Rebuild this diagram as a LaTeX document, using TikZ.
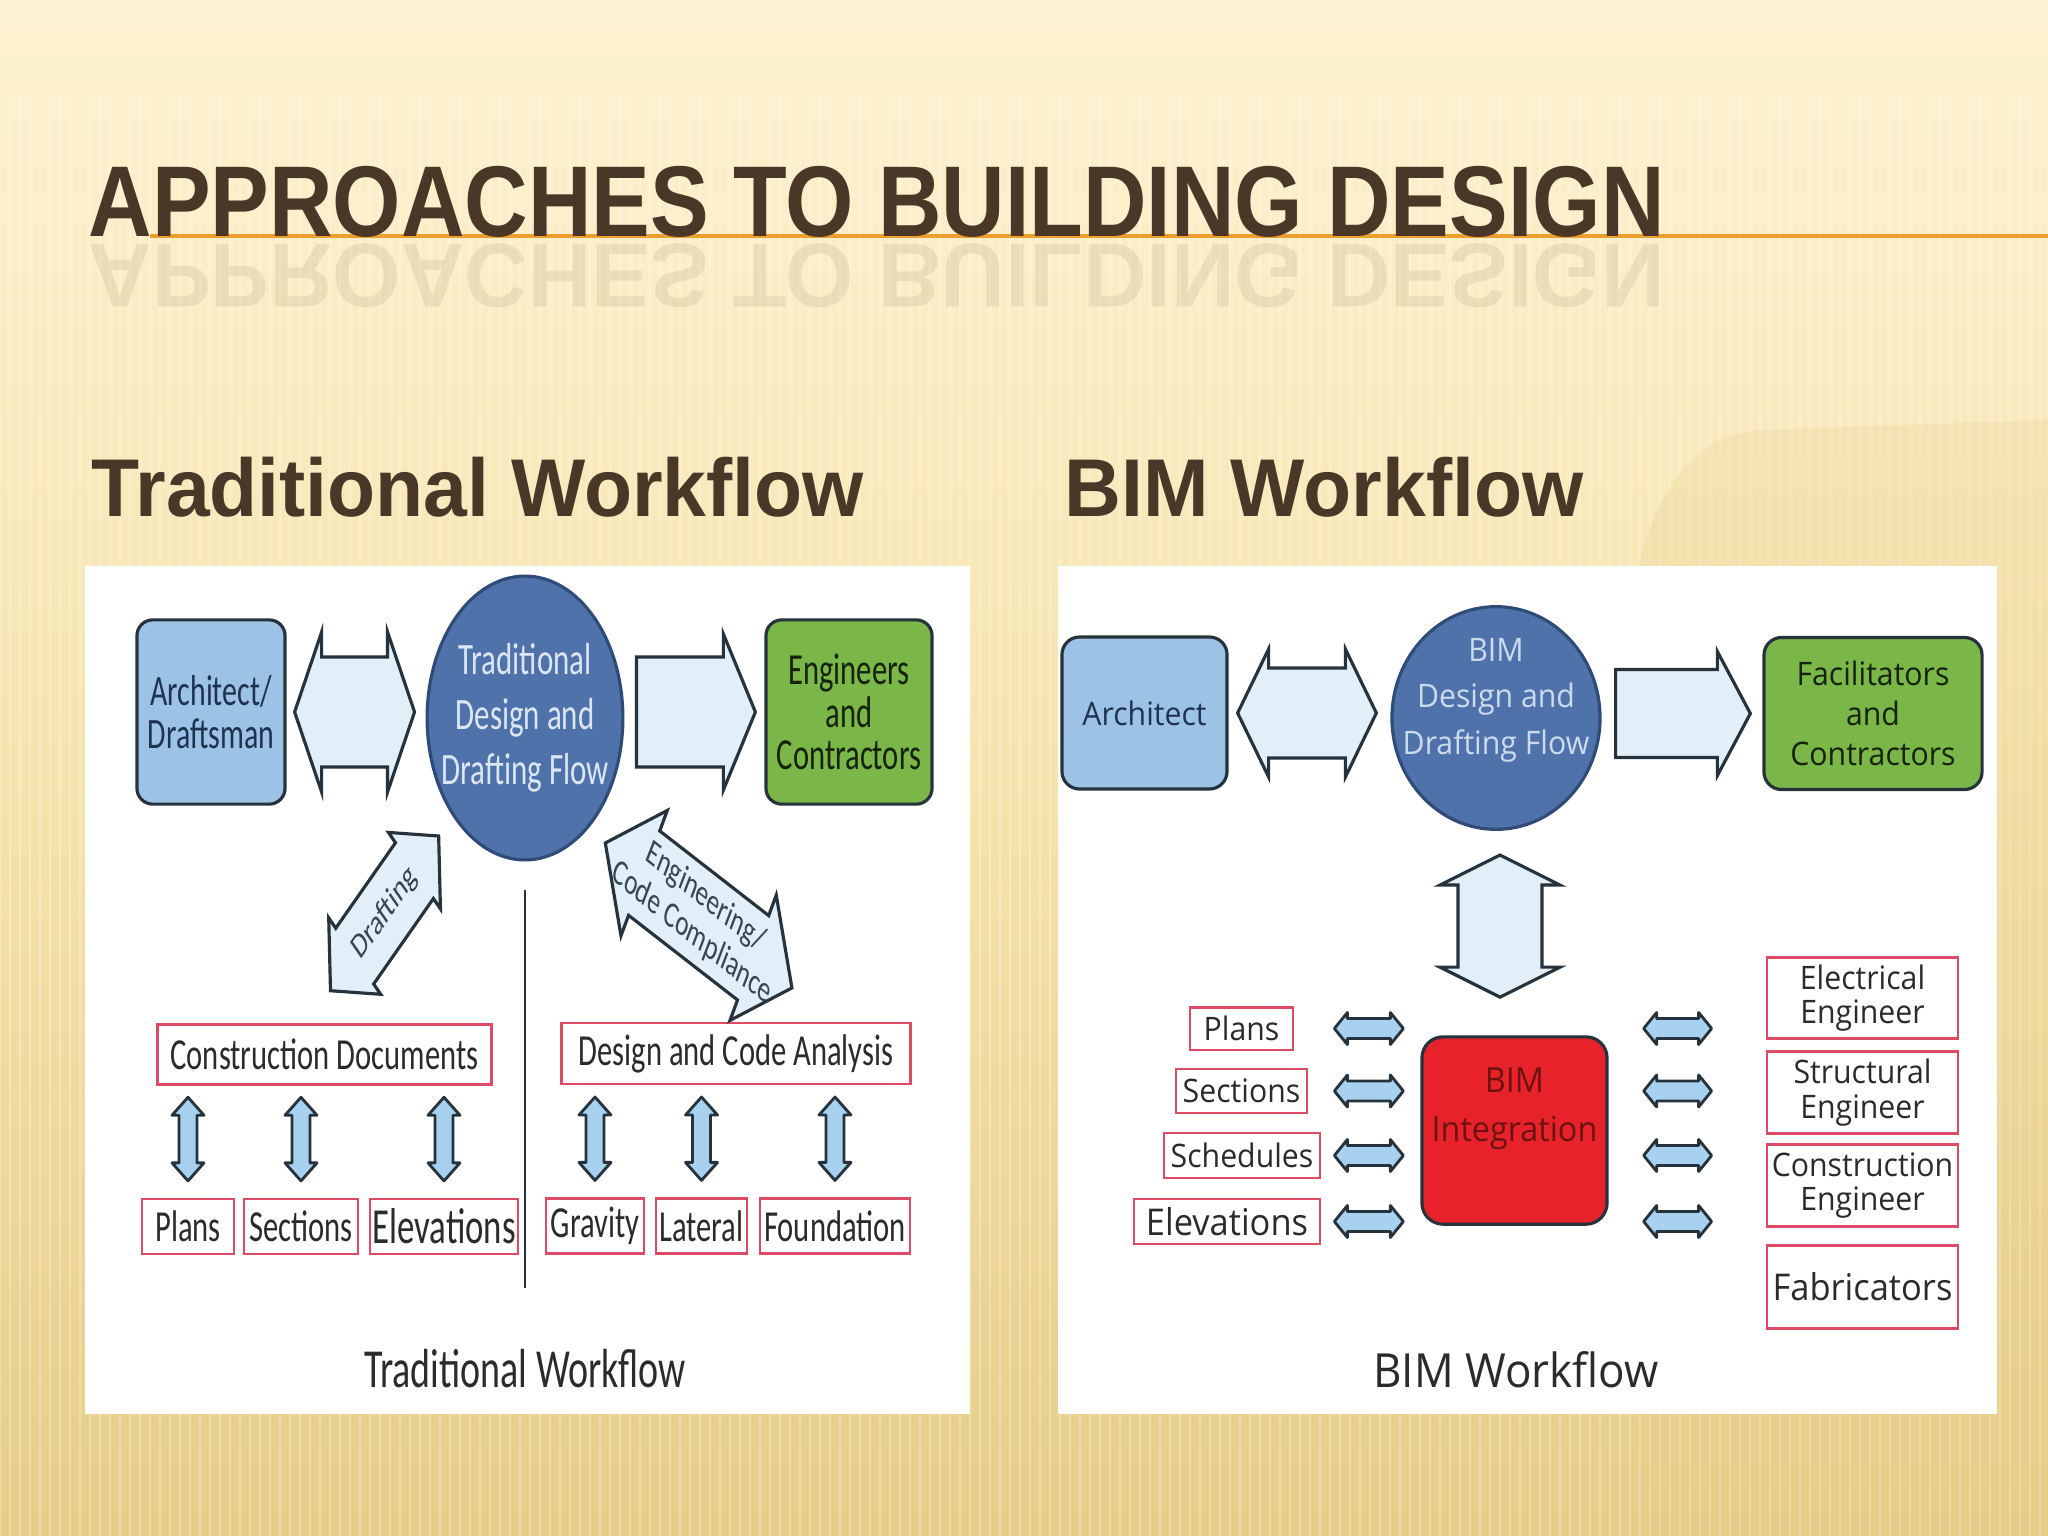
\documentclass[tikz,border=0pt]{standalone}
\usepackage{fontspec}
\setmainfont{Liberation Sans}
\newfontfamily\headfont[FakeStretch=0.874]{Liberation Sans}
\newfontfamily\subheadfont[FakeStretch=0.96]{Liberation Sans}
\newfontfamily\tradfont{Carlito}
\newfontfamily\bimfont{Open Sans}
\usetikzlibrary{calc}

\definecolor{slidetop}{HTML}{FDF2D2}
\definecolor{slidemid}{HTML}{F6E4AE}
\definecolor{slidebot}{HTML}{E6CD88}
\definecolor{slidepatch}{HTML}{E4CB85}
\definecolor{titlebrown}{HTML}{4A3728}
\definecolor{ruleorange}{HTML}{EE9E2E}
\definecolor{archblue}{HTML}{9CC3E5}
\definecolor{flowblue}{HTML}{4F72AA}
\definecolor{flowline}{HTML}{2F4B78}
\definecolor{flowtext}{HTML}{DCE6F3}
\definecolor{bimflowtext}{HTML}{CCDAEE}
\definecolor{enggreen}{HTML}{7AB648}
\definecolor{integred}{HTML}{E8222B}
\definecolor{integtext}{HTML}{6E1111}
\definecolor{boxline}{HTML}{26323C}
\definecolor{arrowfill}{HTML}{E2EFF9}
\definecolor{smallfill}{HTML}{A7D1EE}
\definecolor{docred}{HTML}{DC4A63}
\definecolor{inktext}{HTML}{2B2B2B}
\definecolor{navytext}{HTML}{1F3350}
\definecolor{engtext}{HTML}{17220C}
\definecolor{labeltext}{HTML}{364656}

\newcommand{\arrpx}{0.28453}
\newcommand{\arrys}{1}
\newcommand{\arrpt}[2]{({\x1+\arrpx*((#1)*cos(\n1)-(#2)*sin(\n1))},%
  {\y1+\arrys*\arrpx*((#1)*sin(\n1)+(#2)*cos(\n1))})}
% block arrows: style, from, to, shaft half width, head half width, head length (px), y stretch
\newcommand{\dblarrow}[7]{%
  \def\arrys{#7}%
  \draw[#1] let \p1=(#2), \p2=(#3),
      \n1={atan2((\y2-\y1)/#7,\x2-\x1)},
      \n2={veclen(\x2-\x1,(\y2-\y1)/#7)/\arrpx}
    in \arrpt{0}{0} -- \arrpt{#6}{#5} -- \arrpt{#6}{#4} -- \arrpt{\n2-#6}{#4}
      -- \arrpt{\n2-#6}{#5} -- \arrpt{\n2}{0} -- \arrpt{\n2-#6}{-#5}
      -- \arrpt{\n2-#6}{-#4} -- \arrpt{#6}{-#4} -- \arrpt{#6}{-#5} -- cycle;}
\newcommand{\onearrow}[7]{%
  \def\arrys{#7}%
  \draw[#1] let \p1=(#2), \p2=(#3),
      \n1={atan2((\y2-\y1)/#7,\x2-\x1)},
      \n2={veclen(\x2-\x1,(\y2-\y1)/#7)/\arrpx}
    in \arrpt{0}{#4} -- \arrpt{\n2-#6}{#4} -- \arrpt{\n2-#6}{#5} -- \arrpt{\n2}{0}
      -- \arrpt{\n2-#6}{-#5} -- \arrpt{\n2-#6}{-#4} -- \arrpt{0}{-#4} -- cycle;}

\begin{document}
\begin{tikzpicture}[x=0.01cm, y=-0.01cm,
    stripe/.style={draw=white, opacity=0.28, line width=0.8pt},
    panel/.style={fill=white, inner sep=0pt},
    heading/.style={anchor=base west, inner sep=0pt, text=titlebrown},
    trad/.style={yscale=1.45, align=center, text=inktext,
      font=\tradfont\fontsize{8.7}{8.4}\selectfont},
    tradbox/.style={trad, draw=boxline, line width=0.9pt, rounded corners=4.5pt,
      minimum height=1.27cm, inner sep=1pt},
    tradflow/.style={trad, circle, draw=flowline, line width=0.9pt, fill=flowblue,
      minimum size=1.88cm, inner sep=0pt, text=flowtext,
      font=\tradfont\fontsize{8.8}{10.8}\selectfont},
    traddoc/.style={trad, draw=docred, line width=0.8pt, fill=white,
      inner sep=0pt, minimum height=0.38cm},
    bim/.style={yscale=1.07, align=center, text=inktext,
      font=\bimfont\fontsize{8.6}{10.6}\selectfont},
    bimbox/.style={bim, draw=boxline, line width=0.9pt, rounded corners=5pt,
      minimum height=1.42cm},
    bimdoc/.style={bim, draw=docred, line width=0.8pt, fill=white, inner sep=0pt},
    bigarrow/.style={draw=boxline, line width=0.9pt, fill=arrowfill, line join=miter},
    smallarrow/.style={draw=boxline, line width=0.8pt, fill=smallfill, line join=round},
  ]
  \useasboundingbox (0,0) rectangle (2048,1536);
  \shade[top color=slidetop, bottom color=slidebot, middle color=slidemid]
    (0,0) rectangle (2048,1536);
  \foreach \sx in {0,10,...,2050}
    \draw[stripe] (\sx,95) -- (\sx,1536);
  \fill[slidepatch, opacity=0.22] (1640,1536) -- (1640,560)
    to[out=75,in=185] (1760,430) -- (2048,420) -- (2048,1536) -- cycle;

  \draw[ruleorange, line width=1.2pt] (150,236) -- (2048,236);
  \node[heading, yscale=-0.9, opacity=0.09,
    font=\headfont\bfseries\fontsize{28.6}{30}\selectfont] (echo) at (88,244)
    {APPROACHES TO BUILDING DESIGN};
  \node[heading, font=\headfont\bfseries\fontsize{28.6}{30}\selectfont] (title) at (88,236)
    {APPROACHES TO BUILDING DESIGN};
  \node[heading, font=\subheadfont\bfseries\fontsize{23.3}{26}\selectfont] (tradhead)
    at (91,516) {Traditional Workflow};
  \node[heading, font=\subheadfont\bfseries\fontsize{23.3}{26}\selectfont] (bimhead)
    at (1064,516) {BIM Workflow};

  \node[panel, minimum width=8.85cm, minimum height=8.48cm] (tpanel) at (527.5,990) {};
  \node[panel, minimum width=9.39cm, minimum height=8.48cm] (bpanel) at (1527.5,990) {};

  % traditional workflow
  \node[tradbox, fill=archblue, text=navytext, minimum width=1.48cm,
    font=\tradfont\fontsize{8.5}{8.4}\selectfont] (arch) at (211,712) {Architect/\\Draftsman};
  \node[tradflow] (flow) at (525,718) {Traditional\\Design and\\Drafting Flow};
  \node[tradbox, fill=enggreen, text=engtext, minimum width=1.66cm] (eng) at (849,712)
    {Engineers\\and\\Contractors};
  \node[traddoc, minimum width=3.33cm, minimum height=0.41cm] (cd) at (324.5,1054.5)
    {Construction Documents};
  \node[traddoc, minimum width=3.48cm, minimum height=0.42cm] (dca) at (736,1053.5)
    {Design and Code Analysis};
  \node[traddoc, minimum width=0.92cm] (plans) at (188,1226.5) {Plans};
  \node[traddoc, minimum width=1.14cm] (sect) at (301,1226.5) {Sections};
  \node[traddoc, minimum width=1.48cm, font=\tradfont\fontsize{9.9}{10}\selectfont]
    (elev) at (444,1226.5) {Elevations};
  \node[traddoc, minimum width=0.98cm] (grav) at (595,1226) {Gravity};
  \node[traddoc, minimum width=0.91cm] (lat) at (701.5,1226) {Lateral};
  \node[traddoc, minimum width=1.50cm] (found) at (835,1226) {Foundation};
  \node[trad, font=\tradfont\fontsize{10.8}{12}\selectfont] (tradcap) at (525,1369)
    {Traditional Workflow};

  \coordinate (a1) at ($(arch.east)+(8,0)$);
  \coordinate (a2) at ($(flow.west |- arch.east)+(-11,0)$);
  \dblarrow{bigarrow}{a1}{a2}{55}{80}{27}{1}
  \coordinate (f1) at ($(flow.east |- eng.west)+(12,0)$);
  \coordinate (f2) at ($(eng.west)+(-9,0)$);
  \onearrow{bigarrow}{f1}{f2}{55}{78}{32}{1}
  \coordinate (d1) at ($(cd.north)+(6,-32)$);
  \coordinate (d2) at ($(flow.225)+(-16,16)$);
  \dblarrow{bigarrow}{d1}{d2}{27}{37}{34}{1.45}
  \node[trad, rotate=45, text=labeltext, font=\tradfont\fontsize{7}{8}\selectfont]
    (draftlbl) at ($(d1)!0.5!(d2)$) {Drafting};
  \coordinate (e1) at ($(flow.315)+(10,23)$);
  \coordinate (e2) at ($(dca.north)+(56,-33)$);
  \dblarrow{bigarrow}{e1}{e2}{33}{49}{44}{1.45}
  \node[trad, rotate=-29, text=labeltext, font=\tradfont\fontsize{7.2}{8}\selectfont]
    (englbl) at ($(e1)!0.5!(e2)$) {Engineering/\\Code Compliance};
  \draw[boxline, line width=0.6pt] ($(flow.south)+(0,28)$)
    -- ($(flow.south |- found.south)+(0,32)$);
  \foreach \row in {plans,sect,elev} {
    \dblarrow{smallarrow}{$(\row |- cd.south)+(0,11)$}{$(\row.north)+(0,-16)$}{9}{16}{18}{1}
  }
  \foreach \row in {grav,lat,found} {
    \dblarrow{smallarrow}{$(\row |- dca.south)+(0,11)$}{$(\row.north)+(0,-16)$}{9}{16}{18}{1}
  }

  % BIM workflow
  \node[bimbox, fill=archblue, text=navytext, minimum width=1.65cm] (barch) at (1144.5,713)
    {Architect};
  \node[bim, circle, draw=flowline, line width=0.9pt, fill=flowblue, minimum size=2.08cm,
    inner sep=0pt] (bflow) at (1496,718) {};
  \node[bim, text=bimflowtext, font=\bimfont\fontsize{8.6}{12.4}\selectfont] (bflowtxt)
    at ($(bflow)+(0,-18)$) {BIM\\Design and\\Drafting Flow};
  \node[bimbox, fill=enggreen, text=engtext, minimum width=2.18cm] (fac) at (1873,713.5)
    {Facilitators\\and\\Contractors};
  \node[bimbox, fill=integred, rounded corners=6pt, minimum width=1.85cm,
    minimum height=1.75cm] (integ) at (1514.5,1130.5) {};
  \node[bim, text=integtext, font=\bimfont\fontsize{9.2}{13}\selectfont] (integtxt)
    at ($(integ)+(0,-22)$) {BIM\\Integration};
  \node[bimdoc, minimum width=1.03cm, minimum height=0.40cm] (bplans) at (1241.5,1028.5) {Plans};
  \node[bimdoc, minimum width=1.31cm, minimum height=0.41cm] (bsect) at (1241.5,1091) {Sections};
  \node[bimdoc, minimum width=1.56cm, minimum height=0.42cm] (bsched) at (1242,1155.5) {Schedules};
  \node[bimdoc, minimum width=1.86cm, minimum height=0.42cm,
    font=\bimfont\fontsize{9.8}{11}\selectfont] (belev) at (1227,1221.5) {Elevations};
  \node[bimdoc, minimum width=1.91cm, minimum height=0.75cm,
    font=\bimfont\fontsize{8.6}{9.2}\selectfont] (elec) at (1862.5,998) {Electrical\\Engineer};
  \node[bimdoc, minimum width=1.91cm, minimum height=0.76cm,
    font=\bimfont\fontsize{8.6}{9.2}\selectfont] (struc) at (1862.5,1092.5) {Structural\\Engineer};
  \node[bimdoc, minimum width=1.91cm, minimum height=0.76cm,
    font=\bimfont\fontsize{8.6}{9.2}\selectfont] (cons) at (1862.5,1185.5) {Construction\\Engineer};
  \node[bimdoc, minimum width=1.91cm, minimum height=0.77cm,
    font=\bimfont\fontsize{9.8}{11}\selectfont] (fab) at (1862.5,1287) {Fabricators};
  \node[bim, font=\bimfont\fontsize{12.5}{14}\selectfont] (bimcap) at (1516,1370)
    {BIM Workflow};

  \coordinate (ba1) at ($(barch.east)+(9,0)$);
  \coordinate (ba2) at ($(bflow.west |- barch.east)+(-14,0)$);
  \dblarrow{bigarrow}{ba1}{ba2}{45}{64}{31}{1}
  \coordinate (bf1) at ($(bflow.east |- fac.west)+(14,0)$);
  \coordinate (bf2) at ($(fac.west)+(-12,0)$);
  \onearrow{bigarrow}{bf1}{bf2}{44}{62}{33}{1}
  \coordinate (bv1) at ($(bflow.south)+(4,24)$);
  \coordinate (bv2) at ($(bflow.south |- integ.north)+(4,-38)$);
  \dblarrow{bigarrow}{bv1}{bv2}{42}{60}{30}{1}
  \foreach \row in {bplans,bsect,bsched,belev} {
    \dblarrow{smallarrow}{$(integ.west |- \row)+(-86,0)$}{$(integ.west |- \row)+(-17,0)$}{10}{16}{13}{1}
    \dblarrow{smallarrow}{$(integ.east |- \row)+(35,0)$}{$(integ.east |- \row)+(103,0)$}{10}{16}{13}{1}
  }
\end{tikzpicture}
\end{document}
